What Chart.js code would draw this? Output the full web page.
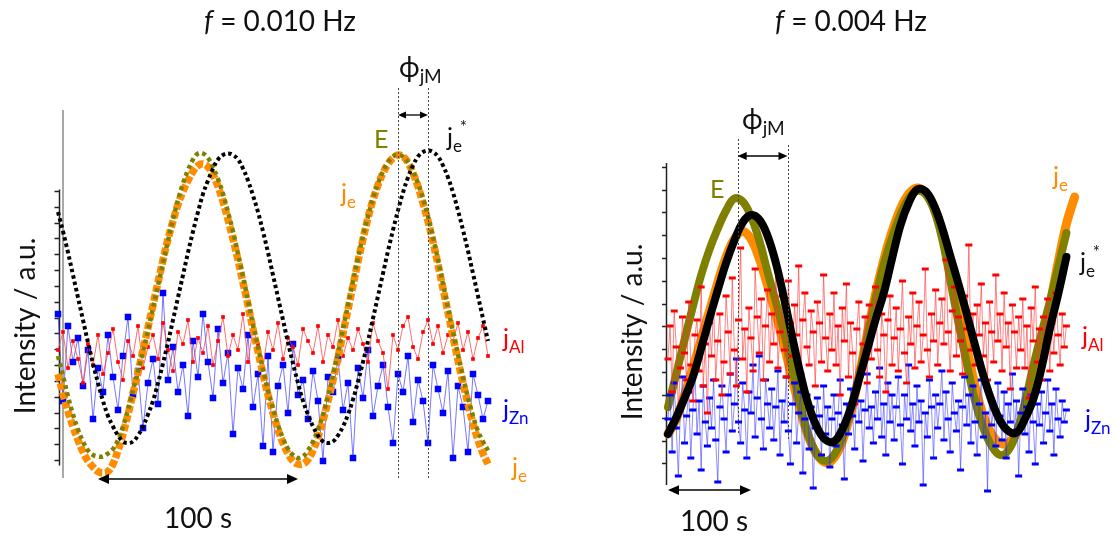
<!DOCTYPE html>
<html>
<head>
<meta charset="utf-8">
<script src="https://cdn.jsdelivr.net/npm/chart.js@4.4.1/dist/chart.umd.min.js"></script>
<style>
  html, body { margin: 0; padding: 0; background: #ffffff; }
  #wrap { position: relative; width: 1116px; height: 541px; overflow: hidden; }
  #wrap canvas { position: absolute; left: 0; top: 0; }
</style>
</head>
<body>
<div id="wrap">
  <canvas id="lowFreq" width="1116" height="541"></canvas>
  <canvas id="veryLowFreq" width="1116" height="541"></canvas>
</div>
<script>
// ---------- f = 0.010 Hz panel: samples every 2.5 s, time in s ----------
const stepA = 2.5;
const potentialA = [48, 41.5, 34.5, 28.5, 23.5, 19.5, 16.5, 15, 14.5, 14.5,
  15.5, 17, 20, 24.5, 30, 36.5, 43, 49.5, 56.5, 64,
  71.5, 79, 86.5, 93.5, 100, 105.5, 110, 113.5, 115.5, 115.5,
  114, 111, 107, 102, 96, 89.5, 82, 74.5, 66.5, 58.5,
  51, 43.5, 36.5, 30.5, 25, 20.5, 17, 15, 14, 14.5,
  16.5, 19.5, 23.5, 28.5, 34.5, 41.5, 49, 57, 65, 73,
  80.5, 88, 94.5, 100.5, 105.5, 109.5, 112.5, 114.5, 115, 114.5,
  112.5, 109.5, 105.5, 100.5, 94.5, 87.5, 80, 72, 64, 56,
  48.5, 41, 34, 28, 23, 19.5, 16.5];
const currentA = [42, 35.5, 29.5, 24.5, 20, 16, 13, 11, 9.5, 9,
  9.5, 12, 16.5, 22, 28.5, 35.5, 42.5, 50, 57.5, 65,
  72.5, 80, 87, 93, 98.5, 103, 106.5, 109.5, 111.5, 112,
  111, 108.5, 104.5, 99.5, 93.5, 87, 80, 72.5, 65, 57,
  49.5, 42, 35, 29, 23.5, 19, 15.5, 13, 12, 12,
  13.5, 16.5, 21, 26.5, 33, 40, 47.5, 55.5, 63.5, 71.5,
  79.5, 87, 94, 100, 105, 109, 112, 114, 115, 114.5,
  112.5, 109, 104.5, 99, 93, 86, 78.5, 70.5, 62.5, 54.5,
  46.5, 39, 32, 25.5, 20, 15.5, 12];
const elemSumA = [96, 89.5, 82.5, 75, 67.5, 60, 52.5, 45.5, 39, 33,
  28, 24.5, 21.5, 19.5, 19, 19.5, 21.5, 24.5, 28.5, 33,
  39, 45.5, 52.5, 60, 67.5, 75, 82.5, 89.5, 96, 102,
  106.5, 110.5, 113.5, 115, 115.5, 115, 113.5, 110.5, 106.5, 101.5,
  96, 89.5, 82.5, 75, 67.5, 60, 52.5, 45.5, 39, 33,
  28.5, 24.5, 21.5, 19.5, 19, 19.5, 21.5, 24.5, 28.5, 33.5,
  39.5, 46, 53, 60.5, 68, 75.5, 83, 90, 96.5, 102.5,
  107.5, 111.5, 114.5, 116, 116.5, 116, 114.5, 111.5, 107.5, 102.5,
  96.5, 90, 83, 75.5, 68, 60.5, 53];
const aluminiumA = [50, 56, 44, 53, 47, 39, 52, 45, 55, 42,
  49, 57, 46, 40, 53, 48, 58, 44, 51, 55,
  47, 59, 50, 43, 56, 52, 60, 46, 54, 49,
  58, 45, 53, 61, 48, 55, 50, 62, 46, 57,
  52, 44, 56, 50, 59, 47, 54, 51, 45, 57,
  53, 49, 58, 46, 55, 51, 60, 48, 54, 50,
  57, 52, 46, 59, 53, 49, 37, 55, 50, 58,
  61, 51, 47, 56, 60, 52, 58, 49, 55, 53,
  59, 50, 56, 47, 54, 58, 48];
const zincA = [62, 33, 58, 46, 54, 38, 50, 27, 44, 36,
  55, 41, 30, 48, 61, 35, 43, 24, 39, 47,
  32, 69, 40, 51, 36, 45, 28, 53, 41, 62,
  46, 34, 57, 39, 49, 22, 44, 37, 55, 31,
  42, 18, 48, 16, 38, 45, 29, 52, 35, 40,
  27, 43, 33, 13, 41, 36, 47, 30, 39, 14,
  44, 34, 50, 28, 38, 45, 31, 19, 42, 36,
  48, 26, 40, 33, 19, 45, 37, 29, 43, 14,
  38, 31, 16, 42, 35, 27, 33];
// time markers: 100 s bar and the phase shift between E and j_e* maxima
const scaleBarA = [20, 120];
const phaseA = [170, 185];

// ---------- f = 0.004 Hz panel ----------
const stepCurveB = 10;   // smooth signals, s
const stepNoiseB = 2.5;  // dissolution signals, s
const potentialB = [31, 42, 53.5, 64.5, 75, 83.5, 90.5, 96.5, 100.5, 99.5,
  94.5, 86.5, 76, 66, 55.5, 43.5, 31, 21, 15, 13,
  15, 21, 30, 41, 54, 67, 78.5, 87.5, 95, 100.5,
  103, 102, 97, 87.5, 73.5, 59, 45.5, 33, 24, 18,
  15, 16.5, 22.5, 32.5, 44.5, 55.5, 66, 77.5, 89];
const currentB = [22, 27, 35, 44, 53.5, 63, 72.5, 81, 87, 89.5,
  87, 80.5, 71.5, 62, 51.5, 40, 29.5, 20.5, 15, 12.5,
  14, 19.5, 29, 41, 55, 68.5, 80, 89.5, 97, 102,
  104, 102.5, 98, 90, 79, 65, 51, 38, 28, 22,
  19, 19, 22.5, 30, 41, 53, 65, 79, 92, 101];
const elemSumB = [22, 27.5, 34, 41, 50.5, 60.5, 70, 79, 86.5, 92.5,
  95, 93.5, 88, 79, 67, 54, 41.5, 31, 24, 20,
  19.5, 23.5, 30.5, 40, 50, 60, 69, 80.5, 91.5, 99,
  103.5, 103, 98.5, 91, 81.5, 72, 62, 51.5, 41.5, 33,
  26.5, 23, 22.5, 27, 33.5, 44, 57, 68.5, 81];
const aluminiumB = [47, 58, 36, 63, 51, 30, 44, 61, 49, 40,
  66, 45, 33, 55, 60, 43, 71, 38, 52, 29,
  59, 48, 65, 40, 53, 62, 35, 46, 68, 56,
  42, 74, 50, 38, 60, 84, 47, 57, 36, 64,
  54, 43, 77, 61, 49, 67, 40, 58, 70, 46,
  62, 52, 79, 44, 56, 68, 50, 41, 73, 59,
  48, 65, 55, 78, 42, 60, 69, 51, 45, 63,
  56, 38, 66, 59, 46, 75, 54, 43, 62, 50,
  69, 45, 58, 35, 64, 53, 72, 41, 59, 49,
  32, 57, 66, 44, 52, 61, 39, 65, 47, 58,
  71, 50, 41, 62, 55, 36, 60, 68, 45, 54,
  64, 43, 57, 73, 49, 39, 61, 52, 69, 44,
  58, 66, 46, 55, 77, 50, 41, 62, 53, 70,
  45, 59, 67, 52, 80, 56, 43, 63, 71, 48,
  61, 53, 42, 68, 57, 85, 50, 62, 45, 65,
  55, 72, 48, 59, 40, 66, 56, 46, 75, 53,
  62, 43, 69, 51, 59, 37, 65, 56, 44, 61,
  50, 67, 44, 58, 34, 64, 53, 71, 46, 57,
  40, 61, 52, 67, 43, 59, 49, 69, 55, 45,
  62, 51, 58];
const zincB = [27, 35, 16, 39, 24, 8, 31, 41, 19, 28,
  36, 14, 30, 43, 22, 33, 10, 38, 26, 18,
  34, 24, 40, 20, 6, 31, 38, 27, 16, 35,
  42, 23, 32, 47, 26, 19, 39, 30, 14, 36,
  29, 45, 21, 34, 48, 27, 17, 40, 32, 24,
  37, 20, 31, 43, 15, 33, 26, 41, 23, 12,
  32, 39, 19, 29, 36, 9, 27, 35, 17, 31,
  4, 24, 34, 28, 15, 38, 22, 31, 11, 27,
  35, 18, 29, 40, 25, 7, 32, 22, 37, 28,
  17, 39, 26, 33, 13, 30, 42, 24, 31, 19,
  36, 27, 44, 21, 32, 15, 39, 26, 35, 20,
  31, 41, 25, 12, 35, 27, 45, 23, 32, 18,
  38, 26, 33, 5, 29, 21, 40, 31, 14, 35,
  24, 32, 43, 20, 36, 27, 16, 39, 29, 23,
  33, 10, 31, 41, 25, 35, 19, 38, 26, 15,
  32, 40, 21, 29, 3, 35, 25, 31, 18, 39,
  28, 20, 36, 14, 32, 26, 42, 23, 33, 8,
  29, 37, 22, 31, 16, 35, 26, 12, 32, 25,
  36, 19, 29, 40, 23, 32, 15, 37, 27, 21,
  33, 26, 30];
const scaleBarB = [0, 100];
const phaseB = [84, 144];

// ---------- styling ----------
const FONT = "Lato, 'DejaVu Sans', sans-serif";
const OLIVE = '#808000';
const ORANGE = '#ff8c00';
const RED = '#ff0000';
const BLUE = '#0000ff';

function toPoints(values, step) {
  return values.map((v, i) => ({ x: i * step, y: v }));
}

function text(ctx, s, x, y, size, color, italic, align) {
  ctx.font = (italic ? 'italic ' : '') + size + 'px ' + FONT;
  ctx.fillStyle = color;
  ctx.textAlign = align || 'left';
  ctx.textBaseline = 'alphabetic';
  ctx.fillText(s, x, y);
  return ctx.measureText(s).width;
}

// symbol with subscript (and optional superscript)
function symbol(ctx, x, y, main, sub, color, size, sup) {
  const w = text(ctx, main, x, y, size, color);
  const ws = text(ctx, sub, x + w, y + size * 0.22, size * 0.68, color);
  if (sup) text(ctx, sup, x + w + ws * 0.75, y - size * 0.52, size * 0.68, color);
}

function title(ctx, cx, y, rest) {
  const size = 28;
  ctx.font = 'italic ' + size + 'px ' + FONT;
  const w1 = ctx.measureText('f').width;
  ctx.font = size + 'px ' + FONT;
  const w2 = ctx.measureText(rest).width;
  const x0 = cx - (w1 + w2) / 2;
  text(ctx, 'f', x0, y, size, '#111', true);
  text(ctx, rest, x0 + w1, y, size, '#111');
}

function yLabel(ctx, x, cy) {
  ctx.save();
  ctx.translate(x, cy);
  ctx.rotate(-Math.PI / 2);
  text(ctx, 'Intensity / a.u.', 0, 0, 28, '#111', false, 'center');
  ctx.restore();
}

function hArrow(ctx, x1, x2, y, head, lw) {
  ctx.save();
  ctx.strokeStyle = '#000';
  ctx.fillStyle = '#000';
  ctx.lineWidth = lw;
  ctx.beginPath();
  ctx.moveTo(x1 + head * 0.8, y);
  ctx.lineTo(x2 - head * 0.8, y);
  ctx.stroke();
  ctx.beginPath();
  ctx.moveTo(x1, y); ctx.lineTo(x1 + head, y - head * 0.45); ctx.lineTo(x1 + head, y + head * 0.45);
  ctx.closePath(); ctx.fill();
  ctx.beginPath();
  ctx.moveTo(x2, y); ctx.lineTo(x2 - head, y - head * 0.45); ctx.lineTo(x2 - head, y + head * 0.45);
  ctx.closePath(); ctx.fill();
  ctx.restore();
}

function vDashed(ctx, x, y1, y2) {
  ctx.save();
  ctx.strokeStyle = '#444';
  ctx.lineWidth = 1;
  ctx.setLineDash([2, 2]);
  ctx.beginPath();
  ctx.moveTo(Math.round(x) + 0.5, y1);
  ctx.lineTo(Math.round(x) + 0.5, y2);
  ctx.stroke();
  ctx.restore();
}

// axis line with tick marks to the left, ticks spread between two values
function tickAxis(ctx, ys, x, lineTop, lineBottom, vTop, vBottom, n, len) {
  ctx.save();
  ctx.strokeStyle = '#222';
  ctx.lineWidth = 1.5;
  ctx.beginPath();
  ctx.moveTo(x, ys.getPixelForValue(lineTop));
  ctx.lineTo(x, ys.getPixelForValue(lineBottom));
  for (let i = 0; i < n; i++) {
    const v = vTop + (vBottom - vTop) * i / (n - 1);
    const py = Math.round(ys.getPixelForValue(v)) + 0.5;
    ctx.moveTo(x, py);
    ctx.lineTo(x - len, py);
  }
  ctx.stroke();
  ctx.restore();
}

const panelA = {
  id: 'panelA',
  beforeDatasetsDraw(chart) {
    const ctx = chart.ctx, ys = chart.scales.y;
    ctx.save();
    ctx.strokeStyle = '#a8a8a8';
    ctx.lineWidth = 2;
    ctx.beginPath();
    ctx.moveTo(63, ys.getPixelForValue(130));
    ctx.lineTo(63, ys.getPixelForValue(7.3));
    ctx.stroke();
    ctx.restore();
    tickAxis(ctx, ys, 59.5, 103.5, 11.5, 103, 13.3, 18, 5);
  },
  afterDatasetsDraw(chart) {
    const ctx = chart.ctx, xs = chart.scales.x, ys = chart.scales.y;
    title(ctx, 280, 31, ' = 0.010 Hz');
    yLabel(ctx, 35, 326);
    const by = ys.getPixelForValue(7);
    const bx1 = xs.getPixelForValue(scaleBarA[0]), bx2 = xs.getPixelForValue(scaleBarA[1]);
    hArrow(ctx, bx1, bx2, by, 11, 1.5);
    text(ctx, '100 s', (bx1 + bx2) / 2, 528, 28, '#111', false, 'center');
    vDashed(ctx, xs.getPixelForValue(phaseA[0]), 88, 478);
    vDashed(ctx, xs.getPixelForValue(phaseA[1]), 88, 478);
    hArrow(ctx, xs.getPixelForValue(phaseA[0]), xs.getPixelForValue(phaseA[1]), 115, 8, 1.3);
    symbol(ctx, 399, 77, '\u03D5', 'jM', '#111', 28);
    text(ctx, 'E', 374, 148, 25, OLIVE);
    symbol(ctx, 447, 146, 'j', 'e', '#111', 25, '*');
    symbol(ctx, 341, 202, 'j', 'e', ORANGE, 25);
    symbol(ctx, 503, 347, 'j', 'Al', RED, 25);
    symbol(ctx, 503, 418, 'j', 'Zn', BLUE, 25);
    symbol(ctx, 512, 476, 'j', 'e', ORANGE, 25);
  }
};

const panelB = {
  id: 'panelB',
  beforeDatasetsDraw(chart) {
    tickAxis(chart.ctx, chart.scales.y, 666.5, 112.3, 5, 111.1, 12.2, 14, 4.5);
  },
  afterDatasetsDraw(chart) {
    const ctx = chart.ctx, xs = chart.scales.x, ys = chart.scales.y;
    title(ctx, 851, 31, ' = 0.004 Hz');
    yLabel(ctx, 642, 332);
    const by = ys.getPixelForValue(3.3);
    const bx1 = xs.getPixelForValue(scaleBarB[0]), bx2 = xs.getPixelForValue(scaleBarB[1]);
    hArrow(ctx, bx1, bx2, by, 11, 1.5);
    text(ctx, '100 s', 714, 531, 28, '#111', false, 'center');
    vDashed(ctx, xs.getPixelForValue(phaseB[0]), 139, 433);
    vDashed(ctx, xs.getPixelForValue(phaseB[1]), 145, 440);
    hArrow(ctx, xs.getPixelForValue(phaseB[0]), xs.getPixelForValue(phaseB[1]), 156, 9, 1.5);
    symbol(ctx, 742, 129, '\u03D5', 'jM', '#111', 28);
    text(ctx, 'E', 710, 198, 25, OLIVE);
    symbol(ctx, 1053, 185, 'j', 'e', ORANGE, 25);
    symbol(ctx, 1080, 271, 'j', 'e', '#111', 25, '*');
    symbol(ctx, 1082, 345, 'j', 'Al', RED, 25);
    symbol(ctx, 1085, 428, 'j', 'Zn', BLUE, 25);
  }
};

function baseOptions(xmin, xmax, padding) {
  return {
    responsive: false,
    animation: false,
    events: [],
    layout: { padding: padding },
    plugins: { legend: { display: false }, tooltip: { enabled: false }, title: { display: false } },
    scales: {
      x: { type: 'linear', min: xmin, max: xmax, display: false },
      y: { type: 'linear', min: 0, max: 150, display: false }
    }
  };
}

// square-dot line (dots spaced along the curve)
function dotted(label, values, step, color, width, dash, order) {
  return {
    label: label, data: toPoints(values, step), showLine: true, order: order,
    borderColor: color, borderWidth: width, borderDash: dash, tension: 0.4,
    borderCapStyle: 'butt', pointRadius: 0, clip: false
  };
}

function noisy(label, values, step, color, lineColor, style, radius, bw, order) {
  return {
    label: label, data: toPoints(values, step), showLine: true, order: order,
    borderColor: lineColor, borderWidth: 1, tension: 0,
    pointStyle: style, pointRadius: radius, pointBackgroundColor: color,
    pointBorderColor: color, pointBorderWidth: bw
  };
}

function smooth(label, values, step, color, width, order) {
  return {
    label: label, data: toPoints(values, step), showLine: true, order: order,
    borderColor: color, borderWidth: width, tension: 0.4, pointRadius: 0,
    borderCapStyle: 'round', borderJoinStyle: 'round', clip: false
  };
}

new Chart(document.getElementById('lowFreq'), {
  type: 'scatter',
  data: {
    datasets: [
      dotted('je*', elemSumA, stepA, '#000000', 4, [3.5, 3], 0),
      dotted('E', potentialA, stepA, OLIVE, 4.5, [4, 3.5], 1),
      dotted('je', currentA, stepA, ORANGE, 7.5, [7, 2.5], 2),
      noisy('jAl', aluminiumA, stepA, RED, 'rgba(255,60,60,0.75)', 'rect', 2.6, 0, 3),
      noisy('jZn', zincA, stepA, BLUE, 'rgba(60,60,255,0.7)', 'rect', 4.6, 0, 4)
    ]
  },
  options: baseOptions(-9, 241, { left: 40, right: 576, top: 50, bottom: 41 }),
  plugins: [panelA]
});

new Chart(document.getElementById('veryLowFreq'), {
  type: 'scatter',
  data: {
    datasets: [
      smooth('je*', elemSumB, stepCurveB, '#000000', 8, 0),
      noisy('jAl', aluminiumB, stepNoiseB, RED, 'rgba(255,50,50,0.6)', 'line', 3.5, 3, 1),
      noisy('jZn', zincB, stepNoiseB, BLUE, 'rgba(50,50,255,0.55)', 'line', 3.5, 3, 2),
      smooth('E', potentialB, stepCurveB, OLIVE, 8, 3),
      smooth('je', currentB, stepCurveB, ORANGE, 9, 4)
    ]
  },
  options: baseOptions(-81.9, 520.5, { left: 600, right: 16, top: 50, bottom: 41 }),
  plugins: [panelB]
});
</script>
</body>
</html>
